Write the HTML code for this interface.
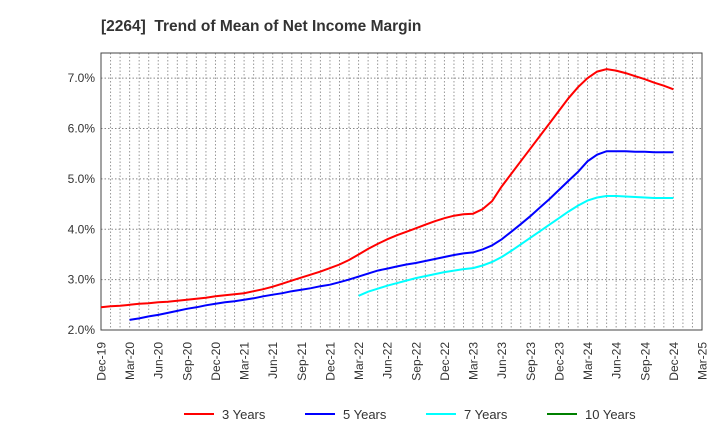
<!DOCTYPE html>
<html><head><meta charset="utf-8"><style>
body{margin:0;background:#fff;font-family:"Liberation Sans",sans-serif}
</style></head><body>
<svg id="c" width="720" height="440" xmlns="http://www.w3.org/2000/svg">
<text x="101" y="31" font-size="15.5" font-weight="bold" fill="#333" xml:space="preserve" style="white-space:pre">[2264]  Trend of Mean of Net Income Margin</text>
</svg>
<script>
const months=[];for(let i=0;i<=63;i++)months.push(i);
const tickLabels=["Dec-19","Mar-20","Jun-20","Sep-20","Dec-20","Mar-21","Jun-21","Sep-21","Dec-21","Mar-22","Jun-22","Sep-22","Dec-22","Mar-23","Jun-23","Sep-23","Dec-23","Mar-24","Jun-24","Sep-24","Dec-24","Mar-25"];
const yTicks=[2,3,4,5,6,7];
const seriesNames=["3 Years","5 Years","7 Years","10 Years"];
const seriesColors=["#ff0000","#0000ff","#00ffff","#008000"];
const red=[2.45,2.47,2.48,2.50,2.52,2.53,2.55,2.56,2.58,2.60,2.62,2.64,2.67,2.69,2.71,2.73,2.77,2.81,2.86,2.92,2.98,3.04,3.10,3.16,3.23,3.30,3.39,3.50,3.61,3.71,3.80,3.88,3.95,4.02,4.09,4.16,4.22,4.27,4.30,4.31,4.40,4.56,4.85,5.10,5.35,5.60,5.85,6.10,6.35,6.60,6.82,7.00,7.13,7.18,7.15,7.10,7.04,6.98,6.91,6.85,6.78];
const blue=[null,null,null,2.20,2.23,2.27,2.30,2.34,2.38,2.42,2.45,2.49,2.52,2.55,2.57,2.60,2.63,2.67,2.70,2.73,2.77,2.80,2.83,2.87,2.90,2.95,3.00,3.06,3.12,3.18,3.22,3.26,3.30,3.33,3.37,3.41,3.45,3.49,3.52,3.54,3.60,3.68,3.80,3.95,4.10,4.26,4.43,4.60,4.78,4.96,5.14,5.35,5.48,5.55,5.55,5.55,5.54,5.54,5.53,5.53,5.53];
const cyan=[null,null,null,null,null,null,null,null,null,null,null,null,null,null,null,null,null,null,null,null,null,null,null,null,null,null,null,2.68,2.76,2.82,2.88,2.93,2.98,3.03,3.07,3.11,3.15,3.18,3.21,3.23,3.28,3.35,3.45,3.57,3.70,3.83,3.96,4.09,4.22,4.35,4.47,4.57,4.63,4.66,4.66,4.65,4.64,4.63,4.62,4.62,4.62];
const green=[];
const L=101,R=702,T=53,B=330,ymin=2,ymax=7.5;
const xs=m=>L+(R-L)*m/63, ys=v=>B-(B-T)*(v-ymin)/(ymax-ymin);
const svg=document.getElementById('c'),NS="http://www.w3.org/2000/svg";
function mk(t,a,p){const e=document.createElementNS(NS,t);for(const k in a)e.setAttribute(k,a[k]);(p||svg).appendChild(e);return e;}
months.forEach(m=>{if(m>0&&m<63){const l=mk('line',{x1:xs(m),x2:xs(m),y1:T,y2:B,stroke:'#999','stroke-dasharray':'1.5,2','stroke-width':1});

}});
yTicks.forEach(v=>{const l=mk('line',{x1:L,x2:R,y1:ys(v),y2:ys(v),stroke:'#888','stroke-dasharray':'1.5,2','stroke-width':1});


const t=mk('text',{x:L-6,y:ys(v)+4,'text-anchor':'end','font-size':12,fill:'#333'});t.textContent=v.toFixed(1)+'%';

});
const fr=mk('rect',{x:L,y:T,width:R-L,height:B-T,fill:'none',stroke:'#444','stroke-width':1});


tickLabels.forEach((s,i)=>{const x=xs(i*3);const t=mk('text',{transform:`translate(${x+4.5},${B+12}) rotate(-90)`,'text-anchor':'end','font-size':12,fill:'#333'});t.textContent=s;

});
[red,blue,cyan,green].forEach((arr,si)=>{let d='';arr.forEach((v,i)=>{if(v==null)return;d+=(d?'L':'M')+xs(i).toFixed(1)+','+ys(v).toFixed(1);});
if(d){const p=mk('path',{d:d,fill:'none',stroke:seriesColors[si],'stroke-width':2});

}});
const lx=[184,305,426,547];
seriesNames.forEach((n,i)=>{const g=mk('g',{});


mk('line',{x1:lx[i],x2:lx[i]+30,y1:414,y2:414,stroke:seriesColors[i],'stroke-width':2},g);
const t=mk('text',{x:lx[i]+38,y:419,'font-size':13,fill:'#333'},g);t.textContent=n;});
</script>
</body></html>
